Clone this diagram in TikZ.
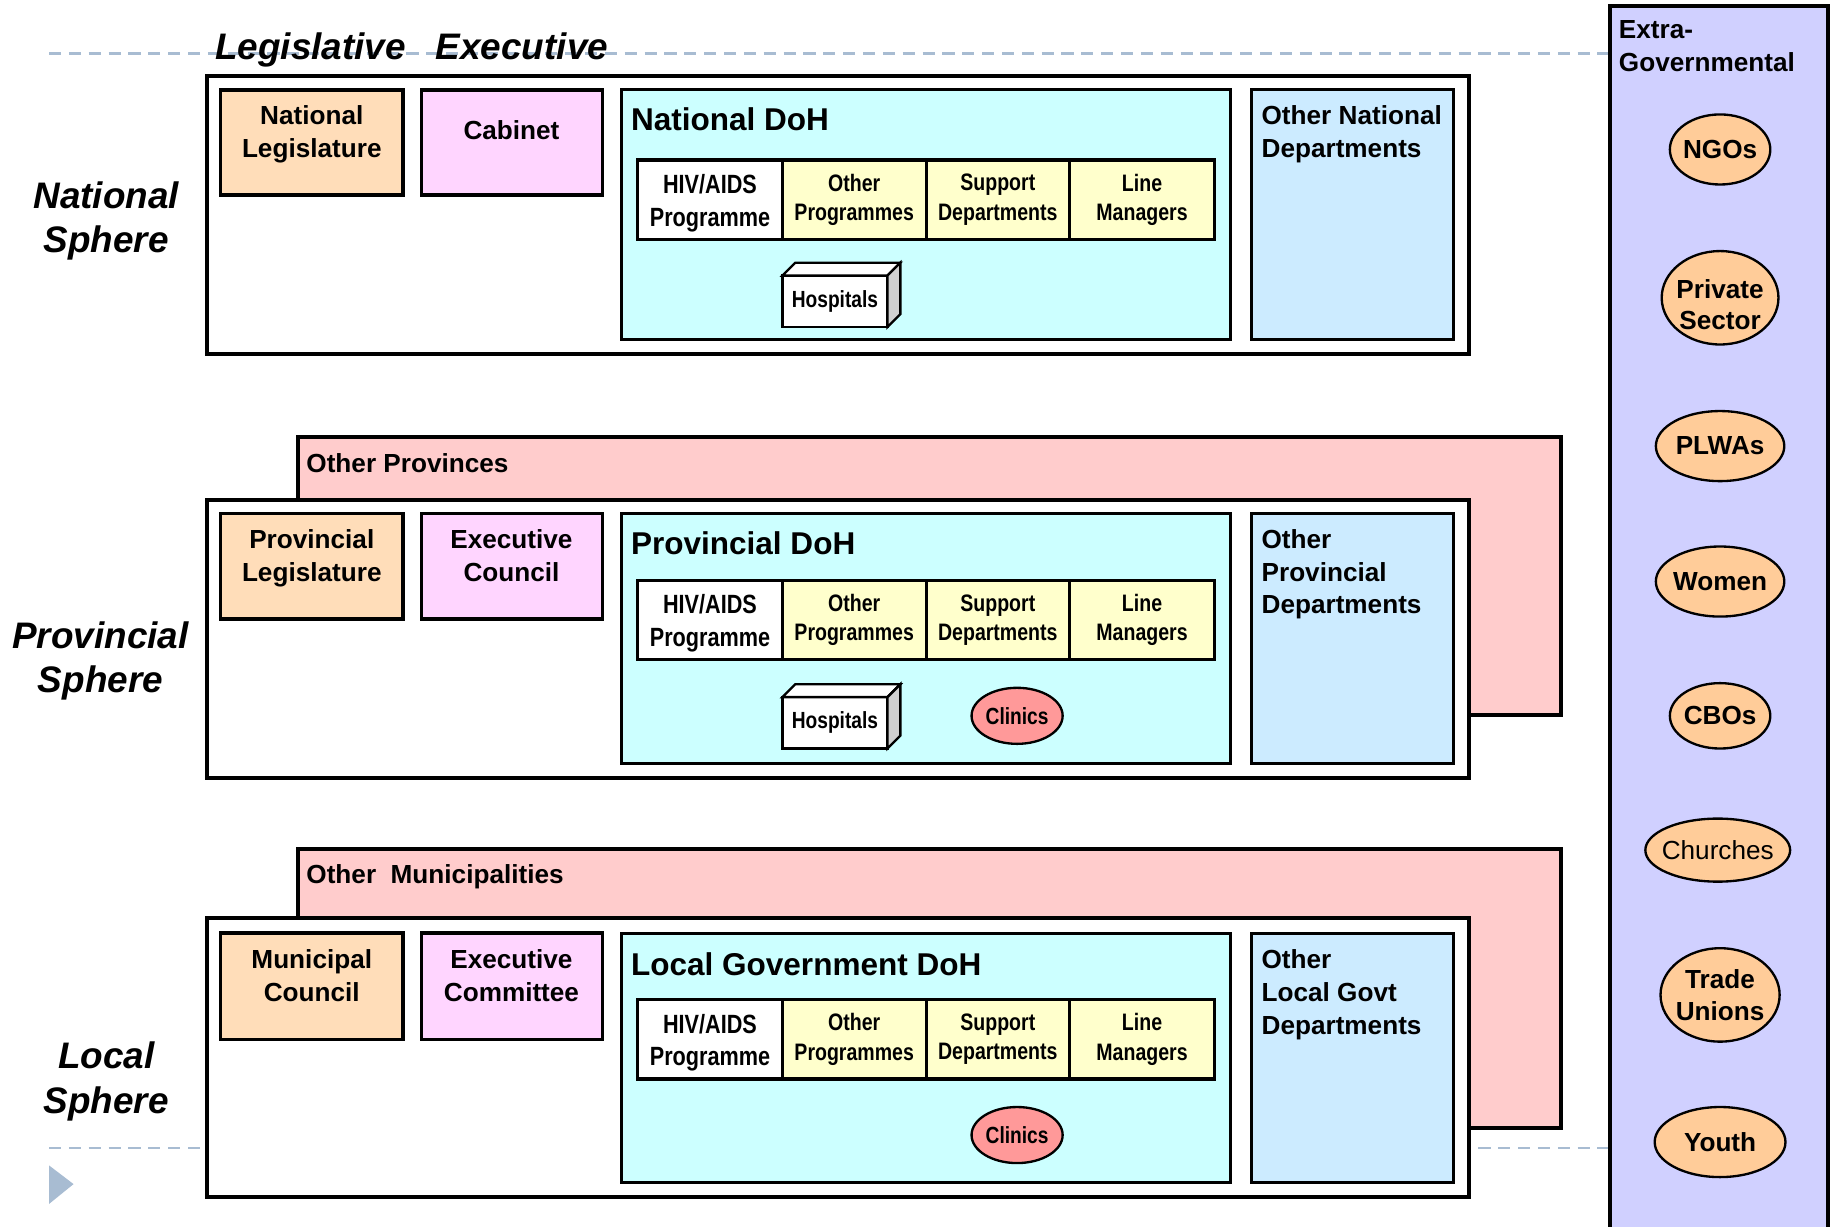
\documentclass[tikz,border=0pt]{standalone}
\usepackage{fontspec}
\setmainfont{Liberation Sans}
\newfontfamily\narrowfont[FakeStretch=0.82]{Liberation Sans}
\usetikzlibrary{fit,shapes.geometric}

\definecolor{legorange}{HTML}{FFDDB9}
\definecolor{execpink}{HTML}{FFD5FF}
\definecolor{dohcyan}{HTML}{CCFFFF}
\definecolor{progyellow}{HTML}{FFFFCC}
\definecolor{deptblue}{HTML}{CCEBFF}
\definecolor{otherred}{HTML}{FFCCCC}
\definecolor{extrablue}{HTML}{D0D0FF}
\definecolor{grouporange}{HTML}{FFCC99}
\definecolor{clinicred}{HTML}{FF9999}
\definecolor{cubegray}{HTML}{D0D0D0}
\definecolor{guideblue}{HTML}{A8BCD2}

\begin{document}
\begin{tikzpicture}[x=0.5pt, y=-0.5pt,
    box/.style={draw=black, line width=1.4pt, inner sep=0pt, outer sep=0pt},
    spherebox/.style={box, fill=white, line width=1.7pt},
    otherbox/.style={box, fill=otherred, line width=1.7pt},
    legbox/.style={box, fill=legorange},
    execbox/.style={box, fill=execpink},
    dohbox/.style={box, fill=dohcyan, line width=1.3pt},
    deptbox/.style={box, fill=deptblue, line width=1.3pt},
    hivcell/.style={box, fill=white, line width=1.3pt},
    progcell/.style={box, fill=progyellow, line width=1.3pt},
    hivtext/.style={align=center, inner sep=0pt, yshift=-1.5pt,
      font=\narrowfont\bfseries\fontsize{11.3}{14}\selectfont},
    progtext/.style={align=center, inner sep=0pt,
      font=\narrowfont\bfseries\fontsize{10.2}{12.5}\selectfont},
    hospital/.style={box, fill=white, line width=1pt},
    hosptext/.style={inner sep=0pt, font=\narrowfont\bfseries\fontsize{10}{12}\selectfont},
    clinic/.style={ellipse, draw=black, line width=1pt, fill=clinicred, inner sep=0pt,
      minimum width=39pt, minimum height=24pt,
      font=\narrowfont\bfseries\fontsize{10}{12}\selectfont},
    group/.style={ellipse, draw=black, line width=1pt, fill=grouporange, inner sep=0pt},
    grouptext/.style={align=center, inner sep=0pt, font=\bfseries\fontsize{11.2}{13.5}\selectfont},
    boxtext/.style={font=\bfseries\fontsize{11.2}{14}\selectfont, align=center,
      anchor=north, inner sep=0pt},
    lefttext/.style={boxtext, align=left, anchor=north west},
    dohtitle/.style={font=\bfseries\fontsize{13.5}{16}\selectfont, anchor=north west,
      inner sep=0pt},
    spheretext/.style={font=\bfseries\itshape\fontsize{15.8}{19}\selectfont,
      align=center, anchor=north, inner sep=0pt},
    guide/.style={guideblue, line width=1.1pt, dash pattern=on 5.2pt off 3.3pt}]

  \useasboundingbox (0,0) rectangle (1568,1050);

  % guide lines
  \draw[guide] (42,46) -- (1378,46);
  \draw[guide] (42,983) -- (1378,983);
  \fill[guideblue] (42,998) -- (42,1031) -- (63,1014) -- cycle;

  \node[spheretext] (legis) at (266,28) {Legislative};
  \node[spheretext] (exec) at (447,28) {Executive};

  % national sphere
  \node[spherebox, fit={(177,65) (1258,303)}] (natsphere) {};
  \node[legbox, fit={(189,77) (345,167)}] (natleg) {};
  \node[boxtext] (natlegtext) at (267,90) {National\\Legislature};
  \node[execbox, fit={(361,77) (516,167)}] (cabinet) {};
  \node[boxtext] (cabinettext) at (438,103) {Cabinet};
  \node[dohbox, fit={(532,77) (1054,291)}] (natdoh) {};
  \node[dohtitle] (natdohtext) at (540,92) {National DoH};
  \node[hivcell, fit={(546,137) (670,205)}] (nathiv) {};
  \node[progcell, fit={(670,137) (793,205)}] (natprog) {};
  \node[progcell, fit={(793,137) (916,205)}] (natsupp) {};
  \node[progcell, fit={(916,137) (1040,205)}] (natline) {};
  \node[hivtext] (nathivtext) at (nathiv.center) {HIV/AIDS\\Programme};
  \node[progtext] (natprogtext) at (natprog.center) {Other\\Programmes};
  \node[progtext] (natsupptext) at (natsupp.center) {Support\\Departments};
  \node[progtext] (natlinetext) at (natline.center) {Line\\Managers};
  \node[hospital, fit={(670,236) (760,280)}] (nathosp) {};
  \draw[line width=1pt, fill=white] (nathosp.north west) -- ++(11,-11) -- ++(90,0) -- (nathosp.north east) -- cycle;
  \draw[line width=1pt, fill=cubegray] (nathosp.north east) -- ++(11,-11) -- ++(0,44) -- (nathosp.south east) -- cycle;
  \node[hosptext] (nathosptext) at (nathosp.center) {Hospitals};
  \node[deptbox, fit={(1072,77) (1245,291)}] (natdept) {};
  \node[lefttext] (natdepttext) at (1080,90) {Other National\\Departments};
  \node[spheretext] (natlabel) at (91,155) {National\\Sphere};

  % provincial sphere
  \node[otherbox, fit={(255,374) (1337,612)}] (otherprov) {};
  \node[lefttext] (otherprovtext) at (262,388) {Other Provinces};
  \node[spherebox, fit={(177,428) (1258,666)}] (provsphere) {};
  \node[legbox, fit={(189,440) (345,530)}] (provleg) {};
  \node[boxtext] (provlegtext) at (267,453) {Provincial\\Legislature};
  \node[execbox, fit={(361,440) (516,530)}] (execcouncil) {};
  \node[boxtext] (execcounciltext) at (438,453) {Executive\\Council};
  \node[dohbox, fit={(532,440) (1054,654)}] (provdoh) {};
  \node[dohtitle] (provdohtext) at (540,455) {Provincial DoH};
  \node[hivcell, fit={(546,497) (670,565)}] (provhiv) {};
  \node[progcell, fit={(670,497) (793,565)}] (provprog) {};
  \node[progcell, fit={(793,497) (916,565)}] (provsupp) {};
  \node[progcell, fit={(916,497) (1040,565)}] (provline) {};
  \node[hivtext] (provhivtext) at (provhiv.center) {HIV/AIDS\\Programme};
  \node[progtext] (provprogtext) at (provprog.center) {Other\\Programmes};
  \node[progtext] (provsupptext) at (provsupp.center) {Support\\Departments};
  \node[progtext] (provlinetext) at (provline.center) {Line\\Managers};
  \node[hospital, fit={(670,597) (760,641)}] (provhosp) {};
  \draw[line width=1pt, fill=white] (provhosp.north west) -- ++(11,-11) -- ++(90,0) -- (provhosp.north east) -- cycle;
  \draw[line width=1pt, fill=cubegray] (provhosp.north east) -- ++(11,-11) -- ++(0,44) -- (provhosp.south east) -- cycle;
  \node[hosptext] (provhosptext) at (provhosp.center) {Hospitals};
  \node[clinic] (provclinic) at (871,613) {Clinics};
  \node[deptbox, fit={(1072,440) (1245,654)}] (provdept) {};
  \node[lefttext] (provdepttext) at (1080,453) {Other\\Provincial\\Departments};
  \node[spheretext] (provlabel) at (86,532) {Provincial\\Sphere};

  % local sphere
  \node[otherbox, fit={(255,727) (1337,966)}] (othermuni) {};
  \node[lefttext] (othermunitext) at (262,740) {Other\ \ Municipalities};
  \node[spherebox, fit={(177,786) (1258,1025)}] (locsphere) {};
  \node[legbox, fit={(189,799) (345,890)}] (muncouncil) {};
  \node[boxtext] (muncounciltext) at (267,813) {Municipal\\Council};
  \node[execbox, fit={(361,799) (516,890)}] (execcommittee) {};
  \node[boxtext] (execcommitteetext) at (438,813) {Executive\\Committee};
  \node[dohbox, fit={(532,799) (1054,1013)}] (locdoh) {};
  \node[dohtitle] (locdohtext) at (540,815) {Local Government DoH};
  \node[hivcell, fit={(546,856) (670,924)}] (lochiv) {};
  \node[progcell, fit={(670,856) (793,924)}] (locprog) {};
  \node[progcell, fit={(793,856) (916,924)}] (locsupp) {};
  \node[progcell, fit={(916,856) (1040,924)}] (locline) {};
  \node[hivtext] (lochivtext) at (lochiv.center) {HIV/AIDS\\Programme};
  \node[progtext] (locprogtext) at (locprog.center) {Other\\Programmes};
  \node[progtext] (locsupptext) at (locsupp.center) {Support\\Departments};
  \node[progtext] (loclinetext) at (locline.center) {Line\\Managers};
  \node[clinic] (locclinic) at (871,972) {Clinics};
  \node[deptbox, fit={(1072,799) (1245,1013)}] (locdept) {};
  \node[lefttext] (locdepttext) at (1080,813) {Other\\Local Govt\\Departments};
  \node[spheretext] (loclabel) at (91,892) {Local\\Sphere};

  % extra-governmental column
  \node[box, fill=extrablue, line width=1.7pt, fit={(1379,5) (1565,1070)}] (extra) {};
  \node[lefttext] (extratext) at (1386,17) {Extra-\\Governmental};
  \node[group, minimum width=43pt, minimum height=30pt] (ngos) at (1473,128) {};
  \node[group, minimum width=50pt, minimum height=40pt] (private) at (1473,255) {};
  \node[group, minimum width=55pt, minimum height=30pt] (plwas) at (1473,382) {};
  \node[group, minimum width=55pt, minimum height=30pt] (women) at (1473,498) {};
  \node[group, minimum width=43pt, minimum height=28pt] (cbos) at (1473,613) {};
  \node[group, minimum width=62pt, minimum height=27pt] (churches) at (1471,728) {};
  \node[group, minimum width=51pt, minimum height=40pt] (unions) at (1473,852) {};
  \node[group, minimum width=56pt, minimum height=30pt] (youth) at (1473,978) {};
  \node[grouptext] (ngostext) at (ngos) {NGOs};
  \node[grouptext, yshift=-3pt] (privatetext) at (private) {Private\\Sector};
  \node[grouptext] (plwastext) at (plwas) {PLWAs};
  \node[grouptext] (womentext) at (women) {Women};
  \node[grouptext] (cbostext) at (cbos) {CBOs};
  \node[grouptext, font=\fontsize{11.2}{13.5}\selectfont] (churchestext) at (churches) {Churches};
  \node[grouptext] (unionstext) at (unions) {Trade\\Unions};
  \node[grouptext] (youthtext) at (youth) {Youth};
\end{tikzpicture}
\end{document}
